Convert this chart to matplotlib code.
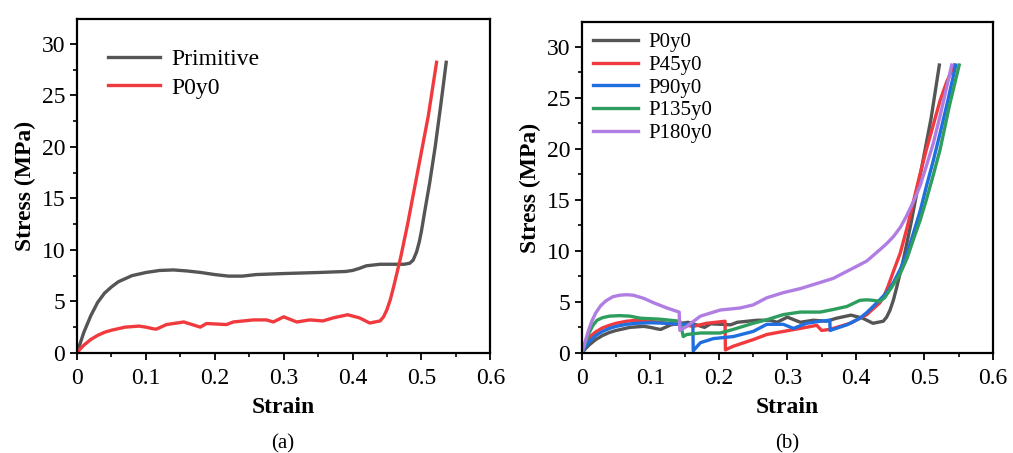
#!/usr/bin/env python3

import matplotlib
matplotlib.use("Agg")
import matplotlib.pyplot as plt
from matplotlib.ticker import MultipleLocator

# ---- panel (a) ----
prim_x = [0, 0.005, 0.01, 0.02, 0.03, 0.04, 0.05, 0.06, 0.08, 0.1, 0.12, 0.14, 0.16,
          0.18, 0.2, 0.22, 0.24, 0.26, 0.3, 0.35, 0.39, 0.40, 0.41, 0.42, 0.44, 0.46,
          0.475, 0.483, 0.488, 0.493, 0.497, 0.5, 0.505, 0.512, 0.52, 0.528, 0.536]
prim_y = [0, 1.0, 2.0, 3.6, 4.9, 5.8, 6.4, 6.9, 7.5, 7.8, 8.0, 8.05, 7.95,
          7.8, 7.6, 7.45, 7.45, 7.6, 7.7, 7.8, 7.9, 8.0, 8.2, 8.45, 8.6, 8.6,
          8.6, 8.7, 9.0, 9.8, 10.8, 11.8, 13.8, 16.5, 20.0, 24.0, 28.2]

p0_x = [0, 0.005, 0.01, 0.02, 0.03, 0.04, 0.05, 0.06, 0.07, 0.08, 0.09, 0.1, 0.11,
        0.115, 0.13, 0.155, 0.179, 0.188, 0.217, 0.227, 0.256, 0.275, 0.285, 0.3,
        0.319, 0.338, 0.357, 0.372, 0.393, 0.41, 0.425, 0.44, 0.445, 0.45, 0.455,
        0.46, 0.465, 0.47, 0.48, 0.49, 0.5, 0.51, 0.522]
p0_y = [0, 0.4, 0.75, 1.3, 1.7, 2.0, 2.2, 2.35, 2.5, 2.55, 2.6, 2.5, 2.35,
        2.3, 2.75, 3.0, 2.5, 2.85, 2.75, 3.0, 3.2, 3.2, 3.0, 3.5,
        3.0, 3.2, 3.1, 3.4, 3.7, 3.4, 2.9, 3.1, 3.5, 4.2, 5.2,
        6.5, 7.9, 9.3, 12.5, 16.0, 19.5, 23.0, 28.2]

# ---- panel (b) ----
p45_x = [0, 0.005, 0.012, 0.02, 0.03, 0.04, 0.05, 0.065, 0.08, 0.1, 0.124, 0.143,
         0.163, 0.182, 0.209, 0.2095, 0.221, 0.25, 0.27, 0.294, 0.319, 0.343, 0.35,
         0.362, 0.392, 0.416, 0.425, 0.435, 0.442, 0.447, 0.455, 0.465, 0.475, 0.484,
         0.493, 0.503, 0.513, 0.523, 0.533, 0.544]
p45_y = [0, 0.8, 1.6, 2.05, 2.45, 2.7, 2.9, 3.1, 3.2, 3.1, 2.9, 2.8,
         2.6, 2.9, 3.1, 0.3, 0.65, 1.3, 1.8, 2.1, 2.4, 2.7, 2.2,
         2.3, 2.9, 3.75, 4.3, 4.9, 5.7, 6.5, 8.0, 9.8, 12.3, 14.8,
         17.3, 19.9, 22.3, 24.7, 26.6, 28.2]

p90_x = [0, 0.005, 0.012, 0.02, 0.03, 0.04, 0.05, 0.065, 0.08, 0.1, 0.124, 0.143,
         0.162, 0.1625, 0.173, 0.192, 0.221, 0.25, 0.27, 0.294, 0.309, 0.328, 0.348,
         0.362, 0.3625, 0.387, 0.406, 0.416, 0.426, 0.435, 0.445, 0.455, 0.465, 0.475,
         0.484, 0.494, 0.503, 0.513, 0.523, 0.534, 0.546]
p90_y = [0, 0.6, 1.2, 1.7, 2.1, 2.4, 2.6, 2.8, 2.9, 2.95, 2.9, 2.8,
         2.8, 0.2, 1.0, 1.4, 1.6, 2.1, 2.8, 2.8, 2.4, 2.9, 3.1,
         3.2, 2.2, 2.75, 3.4, 3.95, 4.6, 5.2, 5.9, 6.9, 8.2, 9.8,
         11.7, 13.9, 16.3, 18.8, 21.5, 24.6, 28.2]

p135_x = [0, 0.005, 0.01, 0.016, 0.022, 0.03, 0.04, 0.055, 0.07, 0.085, 0.114, 0.143,
          0.148, 0.153, 0.173, 0.202, 0.221, 0.25, 0.27, 0.294, 0.319, 0.348, 0.367,
          0.387, 0.406, 0.416, 0.425, 0.435, 0.442, 0.447, 0.455, 0.465, 0.475, 0.484,
          0.494, 0.503, 0.513, 0.523, 0.537, 0.551]
p135_y = [0, 1.0, 1.9, 2.7, 3.2, 3.45, 3.6, 3.65, 3.6, 3.4, 3.3, 3.1,
          1.6, 1.8, 1.95, 1.95, 2.3, 2.9, 3.25, 3.75, 4.0, 4.0, 4.25,
          4.55, 5.15, 5.2, 5.15, 5.05, 5.4, 5.9, 6.7, 7.8, 9.3, 11.1,
          13.0, 15.0, 17.4, 19.9, 24.3, 28.2]

p180_x = [0, 0.005, 0.01, 0.015, 0.02, 0.027, 0.035, 0.045, 0.055, 0.065, 0.075, 0.09,
          0.105, 0.124, 0.142, 0.143, 0.153, 0.173, 0.202, 0.231, 0.25, 0.27, 0.294,
          0.319, 0.348, 0.367, 0.396, 0.416, 0.435, 0.445, 0.455, 0.465, 0.474, 0.484,
          0.494, 0.503, 0.513, 0.523, 0.533, 0.54]
p180_y = [0, 1.2, 2.3, 3.2, 3.9, 4.6, 5.1, 5.5, 5.65, 5.7, 5.65, 5.35,
          4.9, 4.4, 4.0, 2.2, 2.6, 3.6, 4.2, 4.4, 4.7, 5.4, 5.9,
          6.3, 6.9, 7.3, 8.3, 9.0, 10.1, 10.7, 11.4, 12.3, 13.4, 14.8,
          16.4, 18.3, 20.5, 23.2, 26.1, 28.2]

GRAY = "#555555"
RED = "#f03a3e"
BLUE = "#1f6fe0"
GREEN = "#2e9e5e"
PURPLE = "#b07ee3"

plt.rcParams["font.family"] = ["Liberation Serif", "DejaVu Serif"]

fig = plt.figure(figsize=(10.13, 4.53), dpi=100)
ax_a = fig.add_axes([0.076, 0.221, 0.408, 0.737])
ax_b = fig.add_axes([0.5745, 0.221, 0.4055, 0.730])


def style_axes(ax):
    ax.set_xlim(0, 0.6)
    ax.set_ylim(0, 32.4)
    ax.xaxis.set_minor_locator(MultipleLocator(0.05))
    ax.yaxis.set_major_locator(MultipleLocator(5))
    ax.yaxis.set_minor_locator(MultipleLocator(2.5))
    ax.set_xticks([0, 0.1, 0.2, 0.3, 0.4, 0.5, 0.6])
    ax.set_xticklabels(["0", "0.1", "0.2", "0.3", "0.4", "0.5", "0.6"])
    ax.tick_params(which="major", direction="out", length=5, width=1.3, labelsize=17)
    ax.tick_params(axis="x", which="major", pad=6)
    ax.tick_params(which="minor", direction="out", length=3, width=1.2)
    for s in ax.spines.values():
        s.set_linewidth(1.6)
    ax.set_xlabel("Strain", fontsize=17, fontweight="bold", labelpad=6)
    ax.set_ylabel("Stress (MPa)", fontsize=17, fontweight="bold", labelpad=4)


lw = 2.4
ax_a.plot(prim_x, prim_y, color=GRAY, lw=lw, label="Primitive")
ax_a.plot(p0_x, p0_y, color=RED, lw=lw, label="P0y0")
style_axes(ax_a)
ax_a.legend(loc="upper left", bbox_to_anchor=(0.023, 0.975), frameon=False, fontsize=17,
            handlelength=2.2, labelspacing=0.3, handletextpad=0.5)

ax_b.plot(p0_x, p0_y, color=GRAY, lw=lw, label="P0y0")
ax_b.plot(p45_x, p45_y, color=RED, lw=lw, label="P45y0")
ax_b.plot(p90_x, p90_y, color=BLUE, lw=lw, label="P90y0")
ax_b.plot(p135_x, p135_y, color=GREEN, lw=lw, label="P135y0")
ax_b.plot(p180_x, p180_y, color=PURPLE, lw=lw, label="P180y0")
style_axes(ax_b)
ax_b.legend(loc="upper left", bbox_to_anchor=(-0.02, 1.025), frameon=False, fontsize=15,
            handlelength=2.2, labelspacing=0.15, handletextpad=0.5)

fig.text(0.2795, 0.01, "(a)", fontsize=15, ha="center")
fig.text(0.7775, 0.01, "(b)", fontsize=15, ha="center")

fig.savefig("out.png", dpi=100)
